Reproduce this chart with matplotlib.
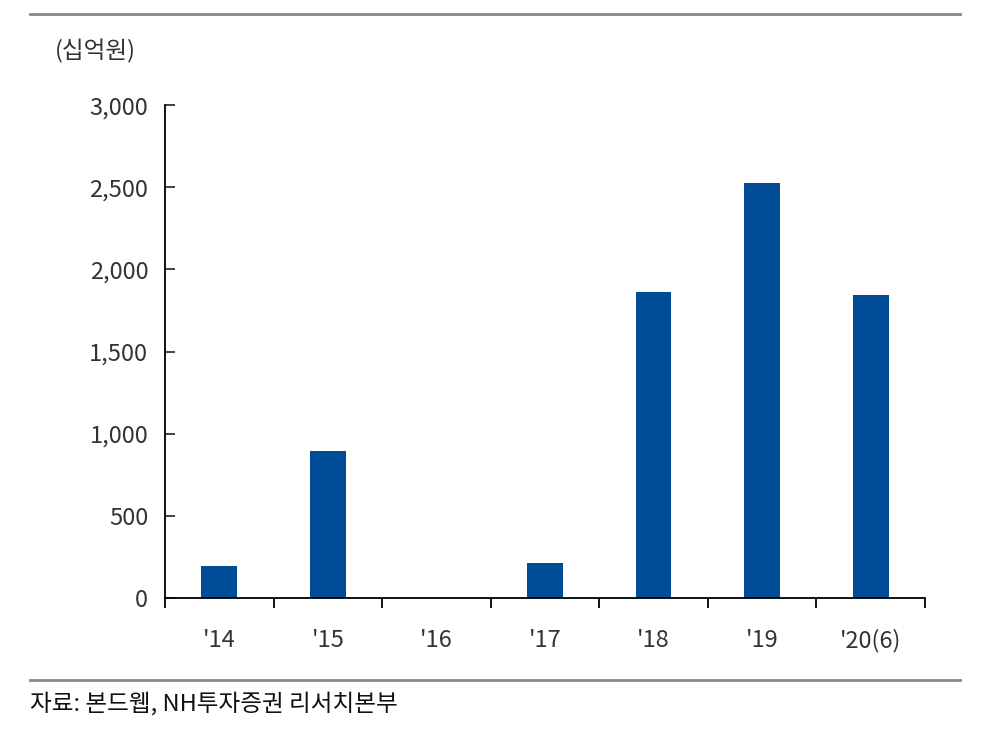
import matplotlib.pyplot as plt
from matplotlib.lines import Line2D
import numpy as np

plt.rcParams['font.family'] = ['Noto Sans CJK KR', 'DejaVu Sans']

years = ["'14", "'15", "'16", "'17", "'18", "'19", "'20(6)"]
values = [195, 895, 0, 213, 1862, 2526, 1844]

fig = plt.figure(figsize=(10, 7.31), dpi=100)
ax = fig.add_axes([0.165, 0.182, 0.76, 0.674])

x = np.arange(len(years))
ax.bar(x, values, width=0.33, color='#004C97')

ax.set_xlim(-0.5, len(years) - 0.5)
ax.set_ylim(0, 3000)
ax.set_yticks(np.arange(0, 3001, 500))
ax.set_yticklabels([f'{v:,}' for v in range(0, 3001, 500)])
ax.set_xticks(x)
ax.set_xticklabels(years)
ax.set_xticks(np.arange(-0.5, len(years)), minor=True)
ax.tick_params(axis='x', which='major', length=0, pad=22, labelsize=17, colors='#333333')
ax.tick_params(axis='x', which='minor', length=7, direction='out', width=1.3)
ax.tick_params(axis='y', length=7, direction='in', width=1.3, labelsize=17, pad=12, colors='#333333')
for s in ['top', 'right']:
    ax.spines[s].set_visible(False)
for s in ['left', 'bottom']:
    ax.spines[s].set_linewidth(1.3)

fig.text(0.055, 0.92, '(십억원)', fontsize=17, color='#333333')
fig.text(0.03, 0.028, '자료: 본드웹, NH투자증권 리서치본부', fontsize=17, color='#111111')
fig.add_artist(Line2D([0.03, 0.96], [0.981, 0.981], color='#888888', lw=2))
fig.add_artist(Line2D([0.03, 0.96], [0.07, 0.07], color='#888888', lw=2))

fig.savefig('out.png', dpi=100)
